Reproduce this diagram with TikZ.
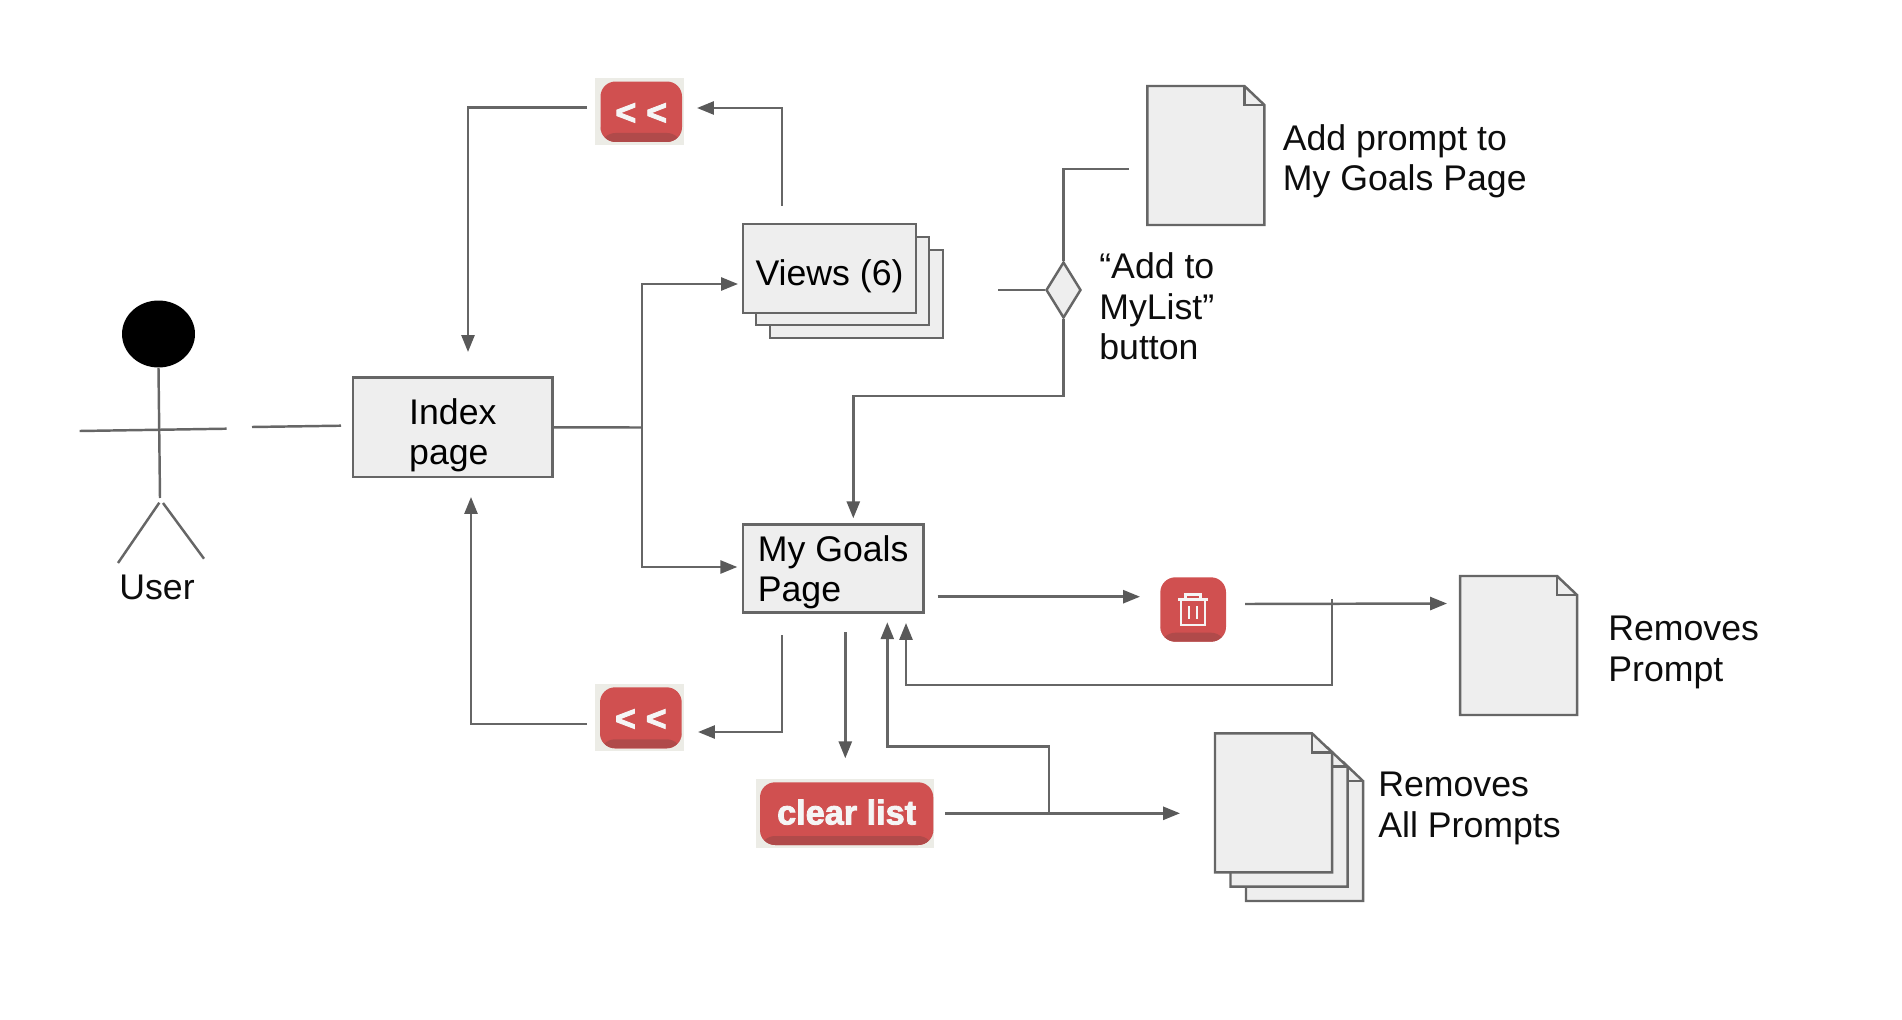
\documentclass[tikz,border=0pt]{standalone}
\usepackage{fontspec}
\setmainfont{Liberation Sans}
\newfontfamily\btnfont[FakeBold=2.5]{Liberation Sans Bold}
\usepackage{xcolor}
\usepackage{tikz}
\usetikzlibrary{shapes.geometric, arrows.meta}

\definecolor{lineGrey}{HTML}{666666}
\definecolor{tipGrey}{HTML}{595959}
\definecolor{pageGrey}{HTML}{EEEEEE}
\definecolor{btnRed}{HTML}{D05050}
\definecolor{btnShade}{HTML}{B04A4A}
\definecolor{btnBack}{HTML}{ECECE6}

\newcommand{\topgap}[1]{\rule{0pt}{#1}}

\tikzset{
  conn/.style={draw=lineGrey, line width=1.4pt},
  flow/.style={conn, -{Triangle[length=9.6pt,width=7.4pt,color=tipGrey]}},
  pagebox/.style={draw=lineGrey, fill=pageGrey, line width=1.4pt, inner sep=0pt, align=left,
    font=\fontsize{20.3}{23}\selectfont},
  lbl/.style={anchor=base west, inner sep=0pt, align=left, text=black!95,
    font=\fontsize{20.3}{23}\selectfont},
  btnbg/.style={fill=btnBack, inner sep=0pt},
  redbtn/.style={fill=btnRed, inner sep=0pt, rounded corners=0.3cm, text=white!96!black,
    path picture={\fill[btnShade] (path picture bounding box.south west) rectangle
      ([yshift=0.18cm]path picture bounding box.south east);}},
  docpage/.pic={
    \draw[draw=lineGrey, fill=pageGrey, line width=1.4pt] (0,0) -- (97,0) -- (117,19) -- (117,139) -- (0,139) -- cycle;
    \draw[draw=lineGrey, line width=1.4pt] (97,0) -- (97,19) -- (117,19);
  }
}

\begin{document}
\begin{tikzpicture}[x=0.02cm, y=-0.02cm]
\useasboundingbox (0,0) rectangle (1902,1020);

% user
\node[ellipse, fill=black, minimum width=1.46cm, minimum height=1.34cm, inner sep=0pt] (head) at (158.5,334) {};
\coordinate (hip) at (160,498);
\coordinate (armL) at (79.7,431);
\coordinate (armR) at (226.7,428.7);
\coordinate (hipA) at (159.3,502.7);
\coordinate (hipB) at (163,503);
\coordinate (footL) at (118,563);
\coordinate (footR) at (204,558.7);
\draw[conn] (head.south) -- (hip);
\draw[conn] (armL) -- (armR);
\draw[conn] (hipA) -- (footL);
\draw[conn] (hipB) -- (footR);
\node[lbl] (userLabel) at (119,599) {User};

% boxes
\node[pagebox, minimum width=3.994cm, minimum height=1.986cm] (index) at (452.85,427.35) {\topgap{23.6pt}Index\\page};
\node[pagebox, minimum width=3.46cm, minimum height=1.76cm] (viewsC) at (856.5,294) {};
\node[pagebox, minimum width=3.46cm, minimum height=1.76cm] (viewsB) at (842.5,281) {};
\node[pagebox, minimum width=3.46cm, minimum height=1.78cm] (views) at (829.5,268.5) {\topgap{23.5pt}Views (6)};
\node[pagebox, minimum width=3.606cm, minimum height=1.76cm] (goals) at (833.15,568.3) {\topgap{19.5pt}My Goals\\Page};
\node[diamond, draw=lineGrey, fill=pageGrey, line width=1.4pt, inner sep=0pt, shape aspect=0.625,
  minimum width=0.7cm, minimum height=1.12cm] (addBtn) at (1063.5,290) {};
\node[lbl] (addBtnLabel) at (1099,359.5) {“Add to\\MyList”\\button};

% pages
\pic (docAdd) at (1147.4,86) {docpage};
\node[lbl] (docAddLabel) at (1282.5,191) {Add prompt to\\My Goals Page};
\pic (docRemove) at (1460,576) {docpage};
\node[lbl] (docRemoveLabel) at (1608,681) {Removes\\Prompt};
\pic (docAllC) at (1246,762) {docpage};
\pic (docAllB) at (1230.5,747.7) {docpage};
\pic (docAllA) at (1215,733.3) {docpage};
\node[lbl] (docAllLabel) at (1378,837) {Removes\\All Prompts};

% buttons
\node[btnbg, minimum width=1.78cm, minimum height=1.35cm] (backTopBg) at (639.5,111.25) {};
\node[redbtn, minimum width=1.63cm, minimum height=1.21cm, text height=0.52cm, font=\btnfont\fontsize{20.4}{22}\selectfont] (backTop) at (641.25,111.75) {< <};
\node[btnbg, minimum width=1.78cm, minimum height=1.34cm] (backLowBg) at (639.5,717.2) {};
\node[redbtn, minimum width=1.634cm, minimum height=1.22cm, text height=0.52cm, font=\btnfont\fontsize{20.4}{22}\selectfont] (backLow) at (640.85,717.8) {< <};
\node[btnbg, minimum width=3.566cm, minimum height=1.392cm] (clearBg) at (845.15,813.5) {};
\node[redbtn, minimum width=3.466cm, minimum height=1.254cm, text depth=0.064cm, font=\btnfont\fontsize{19.5}{22}\selectfont] (clearBtn) at (846.65,813.65) {clear list};
\node[redbtn, minimum width=1.314cm, minimum height=1.288cm] (trashBtn) at (1193.15,609.5) {};
\begin{scope}[shift={(trashBtn.center)}, white!96!black, line width=1.5pt]
\draw (-15,-10) -- (15,-10);
\draw (-7.5,-10) -- (-7.5,-15) -- (7.5,-15) -- (7.5,-10);
\draw (-12,-10) -- (-12,15.5) -- (12,15.5) -- (12,-10);
\draw (-4,-3.5) -- (-4,9.5);
\draw (4,-3.5) -- (4,9.5);
\end{scope}

% connector ends
\coordinate (userOut) at (252,427);
\coordinate (indexIn) at (341,425.7);
\coordinate (indexJoin) at (642,427.5);
\coordinate (viewsIn) at (738,284);
\coordinate (goalsIn) at (737.3,567);
\coordinate (viewsUp) at (782,206);
\coordinate (backTopIn) at (697,108);
\coordinate (backTopOut) at (587,107.5);
\coordinate (indexTopIn) at (468,352);
\coordinate (viewsOut) at (998,290);
\coordinate (docAddIn) at (1129,169);
\coordinate (goalsTurn) at (853.3,396);
\coordinate (goalsTopIn) at (853.3,518.3);
\coordinate (goalsBack) at (782,635);
\coordinate (backLowIn) at (698,732);
\coordinate (backLowOut) at (587,724);
\coordinate (indexLowIn) at (471,497);
\coordinate (goalsDown) at (845.3,632);
\coordinate (clearIn) at (845.3,758.3);
\coordinate (goalsOut) at (937.7,596.7);
\coordinate (trashIn) at (1140,596.7);
\coordinate (trashOut) at (1245,604);
\coordinate (docRemoveIn) at (1447,603.5);
\coordinate (trashDrop) at (1332,599);
\coordinate (trashTurn) at (1332,685);
\coordinate (goalsInB) at (906,623);
\coordinate (clearOut) at (945,813.3);
\coordinate (docAllIn) at (1180,813.3);
\coordinate (clearDrop) at (1049,813.3);
\coordinate (clearTurn) at (1049,746.7);
\coordinate (goalsInA) at (887.3,622.3);

% connectors
\draw[conn] (userOut) -- (indexIn);
\draw[conn] (index.east) -- (indexJoin);
\draw[flow] (indexJoin) |- (viewsIn);
\draw[flow] (indexJoin) |- (goalsIn);
\draw[flow] (viewsUp) |- (backTopIn);
\draw[flow] (backTopOut) -| (indexTopIn);
\draw[conn] (viewsOut) -- (addBtn.west);
\draw[conn] (addBtn.north) |- (docAddIn);
\draw[flow] (addBtn.south) |- (goalsTurn) -- (goalsTopIn);
\draw[flow] (goalsBack) |- (backLowIn);
\draw[flow] (backLowOut) -| (indexLowIn);
\draw[flow] (goalsDown) -- (clearIn);
\draw[flow] (goalsOut) -- (trashIn);
\draw[flow] (trashOut) -- (docRemoveIn);
\draw[flow] (trashDrop) -- (trashTurn) -| (goalsInB);
\draw[flow] (clearOut) -- (docAllIn);
\draw[flow] (clearDrop) -- (clearTurn) -| (goalsInA);
\end{tikzpicture}
\end{document}
